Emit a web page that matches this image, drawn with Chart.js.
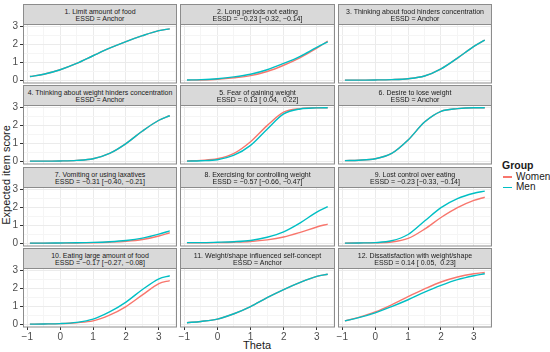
<!DOCTYPE html>
<html>
<head>
<meta charset="utf-8">
<script src="https://cdn.jsdelivr.net/npm/chart.js@4"></script>
<style>
  body { margin: 0; background: #fff; font-family: "Liberation Sans", Arial, sans-serif; }
  #wrap { position: relative; width: 550px; height: 352px; overflow: hidden; }
  #wrap canvas { position: absolute; }
  .strip {
    position: absolute; box-sizing: border-box; height: 21px;
    background: #d9d9d9; border: 1px solid #8c8c8c; color: #1a1a1a;
    font-size: 7px; line-height: 7px; text-align: center; white-space: pre;
    padding-top: 3px; z-index: 2;
  }
  .title { position: absolute; color: #1a1a1a; font-size: 11px; white-space: nowrap; }
  .legend { position: absolute; font-size: 10px; color: #1a1a1a; }
  .key { position: absolute; height: 1.5px; width: 9px; }
</style>
</head>
<body>
<div id="wrap">
  <div class="title" style="left:6px;top:175px;transform:translate(-50%,-50%) rotate(-90deg);">Expected item score</div>
  <div class="title" style="left:257px;top:345px;transform:translate(-50%,-50%);">Theta</div>
  <div class="legend" style="left:502px;top:159px;font-weight:bold;font-size:10.5px;">Group</div>
  <div class="key" style="left:503px;top:176px;background:#F8766D;"></div>
  <div class="legend" style="left:516px;top:171px;">Women</div>
  <div class="key" style="left:503px;top:186.5px;background:#00BFC4;"></div>
  <div class="legend" style="left:516px;top:181px;">Men</div>
</div>
<script>
// theta grid where the curves were read
const theta = [-0.92, -0.5, 0, 0.5, 1, 1.5, 2, 2.5, 3, 3.33];

const titles = [
  '1. Limit amount of food', '2. Long periods not eating', '3. Thinking about food hinders concentration',
  '4. Thinking about weight hinders concentration', '5. Fear of gaining weight', '6. Desire to lose weight',
  '7. Vomiting or using laxatives', '8. Exercising for controlling weight', '9. Lost control over eating',
  '10. Eating large amount of food', '11. Weight/shape influenced self-concept', '12. Dissatisfaction with weight/shape'
];
const essd = [
  'ESSD = Anchor', 'ESSD = \u22120.23 [\u22120.32, \u22120.14]', 'ESSD = Anchor',
  'ESSD = Anchor', 'ESSD = 0.13 [ 0.04,  0.22]', 'ESSD = Anchor',
  'ESSD = \u22120.31 [\u22120.40, \u22120.21]', 'ESSD = \u22120.57 [\u22120.66, \u22120.47]', 'ESSD = \u22120.23 [\u22120.33, \u22120.14]',
  'ESSD = \u22120.17 [\u22120.27, \u22120.08]', 'ESSD = Anchor', 'ESSD = 0.14 [ 0.05,  0.23]'
];

const men = [
  [0.22, 0.35, 0.6, 0.95, 1.38, 1.8, 2.17, 2.5, 2.78, 2.88],
  [0.03, 0.05, 0.1, 0.2, 0.35, 0.6, 0.95, 1.35, 1.85, 2.15],
  [0.02, 0.02, 0.03, 0.05, 0.1, 0.25, 0.65, 1.25, 1.9, 2.25],
  [0.02, 0.02, 0.03, 0.06, 0.15, 0.45, 1.0, 1.7, 2.3, 2.55],
  [0.02, 0.04, 0.1, 0.35, 0.9, 1.8, 2.65, 2.93, 2.99, 3.0],
  [0.05, 0.07, 0.15, 0.45, 1.2, 2.2, 2.8, 2.95, 3.0, 3.0],
  [0.02, 0.02, 0.03, 0.04, 0.06, 0.1, 0.17, 0.3, 0.52, 0.7],
  [0.05, 0.05, 0.07, 0.1, 0.17, 0.35, 0.65, 1.15, 1.75, 2.05],
  [0.02, 0.03, 0.05, 0.15, 0.5, 1.25, 2.0, 2.5, 2.8, 2.92],
  [0.02, 0.03, 0.05, 0.12, 0.3, 0.7, 1.25, 1.95, 2.55, 2.72],
  [0.1, 0.17, 0.3, 0.6, 1.0, 1.5, 1.95, 2.35, 2.68, 2.8],
  [0.2, 0.38, 0.65, 1.0, 1.38, 1.8, 2.18, 2.5, 2.72, 2.83]
];
const women = [
  [0.22, 0.35, 0.6, 0.95, 1.38, 1.8, 2.17, 2.5, 2.78, 2.88],
  [0.02, 0.03, 0.07, 0.15, 0.27, 0.5, 0.85, 1.28, 1.8, 2.2],
  [0.02, 0.02, 0.03, 0.05, 0.1, 0.25, 0.65, 1.25, 1.9, 2.25],
  [0.02, 0.02, 0.03, 0.06, 0.15, 0.45, 1.0, 1.7, 2.3, 2.55],
  [0.03, 0.06, 0.15, 0.45, 1.1, 2.0, 2.75, 2.95, 3.0, 3.0],
  [0.05, 0.07, 0.15, 0.45, 1.2, 2.2, 2.8, 2.95, 3.0, 3.0],
  [0.01, 0.01, 0.02, 0.03, 0.04, 0.07, 0.12, 0.22, 0.42, 0.6],
  [0.04, 0.04, 0.05, 0.07, 0.11, 0.2, 0.36, 0.62, 0.92, 1.08],
  [0.02, 0.03, 0.04, 0.08, 0.28, 0.8, 1.45, 2.0, 2.4, 2.58],
  [0.02, 0.03, 0.05, 0.1, 0.2, 0.52, 1.0, 1.65, 2.28, 2.45],
  [0.1, 0.17, 0.3, 0.6, 1.0, 1.5, 1.95, 2.35, 2.68, 2.8],
  [0.2, 0.4, 0.7, 1.1, 1.55, 1.98, 2.37, 2.65, 2.83, 2.9]
];

const xTicks = [-1, -0.5, 0, 0.5, 1, 1.5, 2, 2.5, 3, 3.5];
const yTicks = [0, 0.5, 1, 1.5, 2, 2.5, 3];

const WOMEN_COL = '#F8766D';
const MEN_COL = '#00BFC4';
const colLeft = [23, 180, 338];
const colW = [154, 155, 154];
const stripTop = [4, 85, 167, 248];
const STRIP_H = 20, PLOT_H = 59, AXIS_W = 23, AXIS_H = 16;
const FONT = '"Liberation Sans", Arial, sans-serif';

const wrap = document.getElementById('wrap');

const isMajor = v => Number.isInteger(v);
const fmt = v => (v < 0 ? '\u2212' + Math.abs(v) : String(v));

// panel frame drawn over the chart area
const frame = {
  id: 'frame',
  afterDraw(chart) {
    const a = chart.chartArea, ctx = chart.ctx;
    ctx.save();
    ctx.strokeStyle = '#8c8c8c';
    ctx.lineWidth = 1;
    ctx.strokeRect(Math.round(a.left) + 0.5, Math.round(a.top) - 0.5, Math.round(a.right - a.left) - 1, Math.round(a.bottom - a.top) + 0.5);
    ctx.restore();
  }
};

function makePanel(i) {
  const r = Math.floor(i / 3), c = i % 3;
  const left = c === 0, bottom = r === 3;

  const strip = document.createElement('div');
  strip.className = 'strip';
  strip.style.left = colLeft[c] + 'px';
  strip.style.top = stripTop[r] + 'px';
  strip.style.width = colW[c] + 'px';
  strip.textContent = titles[i] + '\n' + essd[i];
  wrap.appendChild(strip);

  const cv = document.createElement('canvas');
  cv.width = AXIS_W + colW[c] + 3;
  cv.height = STRIP_H + PLOT_H + AXIS_H;
  cv.style.left = (colLeft[c] - AXIS_W) + 'px';
  cv.style.top = stripTop[r] + 'px';
  wrap.appendChild(cv);

  new Chart(cv, {
    type: 'line',
    data: {
      datasets: [
        { label: 'Men', data: theta.map((t, k) => ({ x: t, y: men[i][k] })), borderColor: MEN_COL },
        { label: 'Women', data: theta.map((t, k) => ({ x: t, y: women[i][k] })), borderColor: WOMEN_COL }
      ]
    },
    options: {
      responsive: false,
      animation: false,
      layout: { padding: { left: left ? 0 : AXIS_W, top: STRIP_H, right: 3, bottom: bottom ? 0 : AXIS_H } },
      plugins: { legend: { display: false }, tooltip: { enabled: false } },
      elements: {
        point: { radius: 0 },
        line: { borderWidth: 1.4, cubicInterpolationMode: 'monotone', fill: false }
      },
      scales: {
        x: {
          type: 'linear', min: -1.13, max: 3.55,
          afterBuildTicks: s => { s.ticks = xTicks.map(v => ({ value: v })); },
          afterFit: s => { s.height = bottom ? AXIS_H : 0; s.paddingLeft = 0; s.paddingRight = 0; },
          border: { display: false },
          grid: {
            color: ctx => isMajor(ctx.tick.value) ? '#ebebeb' : '#f5f5f5',
            drawTicks: bottom, tickLength: 3,
            tickColor: ctx => isMajor(ctx.tick.value) ? '#333333' : 'rgba(0,0,0,0)'
          },
          ticks: {
            display: bottom, autoSkip: false, maxRotation: 0, padding: 1,
            color: '#4d4d4d', font: { size: 10, family: FONT },
            callback: v => isMajor(v) ? fmt(v) : ''
          }
        },
        y: {
          type: 'linear', min: -0.14, max: 3.15,
          afterBuildTicks: s => { s.ticks = yTicks.map(v => ({ value: v })); },
          afterFit: s => { s.width = left ? AXIS_W : 0; s.paddingTop = 0; s.paddingBottom = 0; },
          border: { display: false },
          grid: {
            color: ctx => isMajor(ctx.tick.value) ? '#ebebeb' : '#f5f5f5',
            drawTicks: left, tickLength: 3,
            tickColor: ctx => isMajor(ctx.tick.value) ? '#333333' : 'rgba(0,0,0,0)'
          },
          ticks: {
            display: left, autoSkip: false, padding: 2,
            color: '#4d4d4d', font: { size: 10, family: FONT },
            callback: v => isMajor(v) ? fmt(v) : ''
          }
        }
      }
    },
    plugins: [frame]
  });
}

for (let i = 0; i < 12; i++) makePanel(i);
</script>
</body>
</html>
